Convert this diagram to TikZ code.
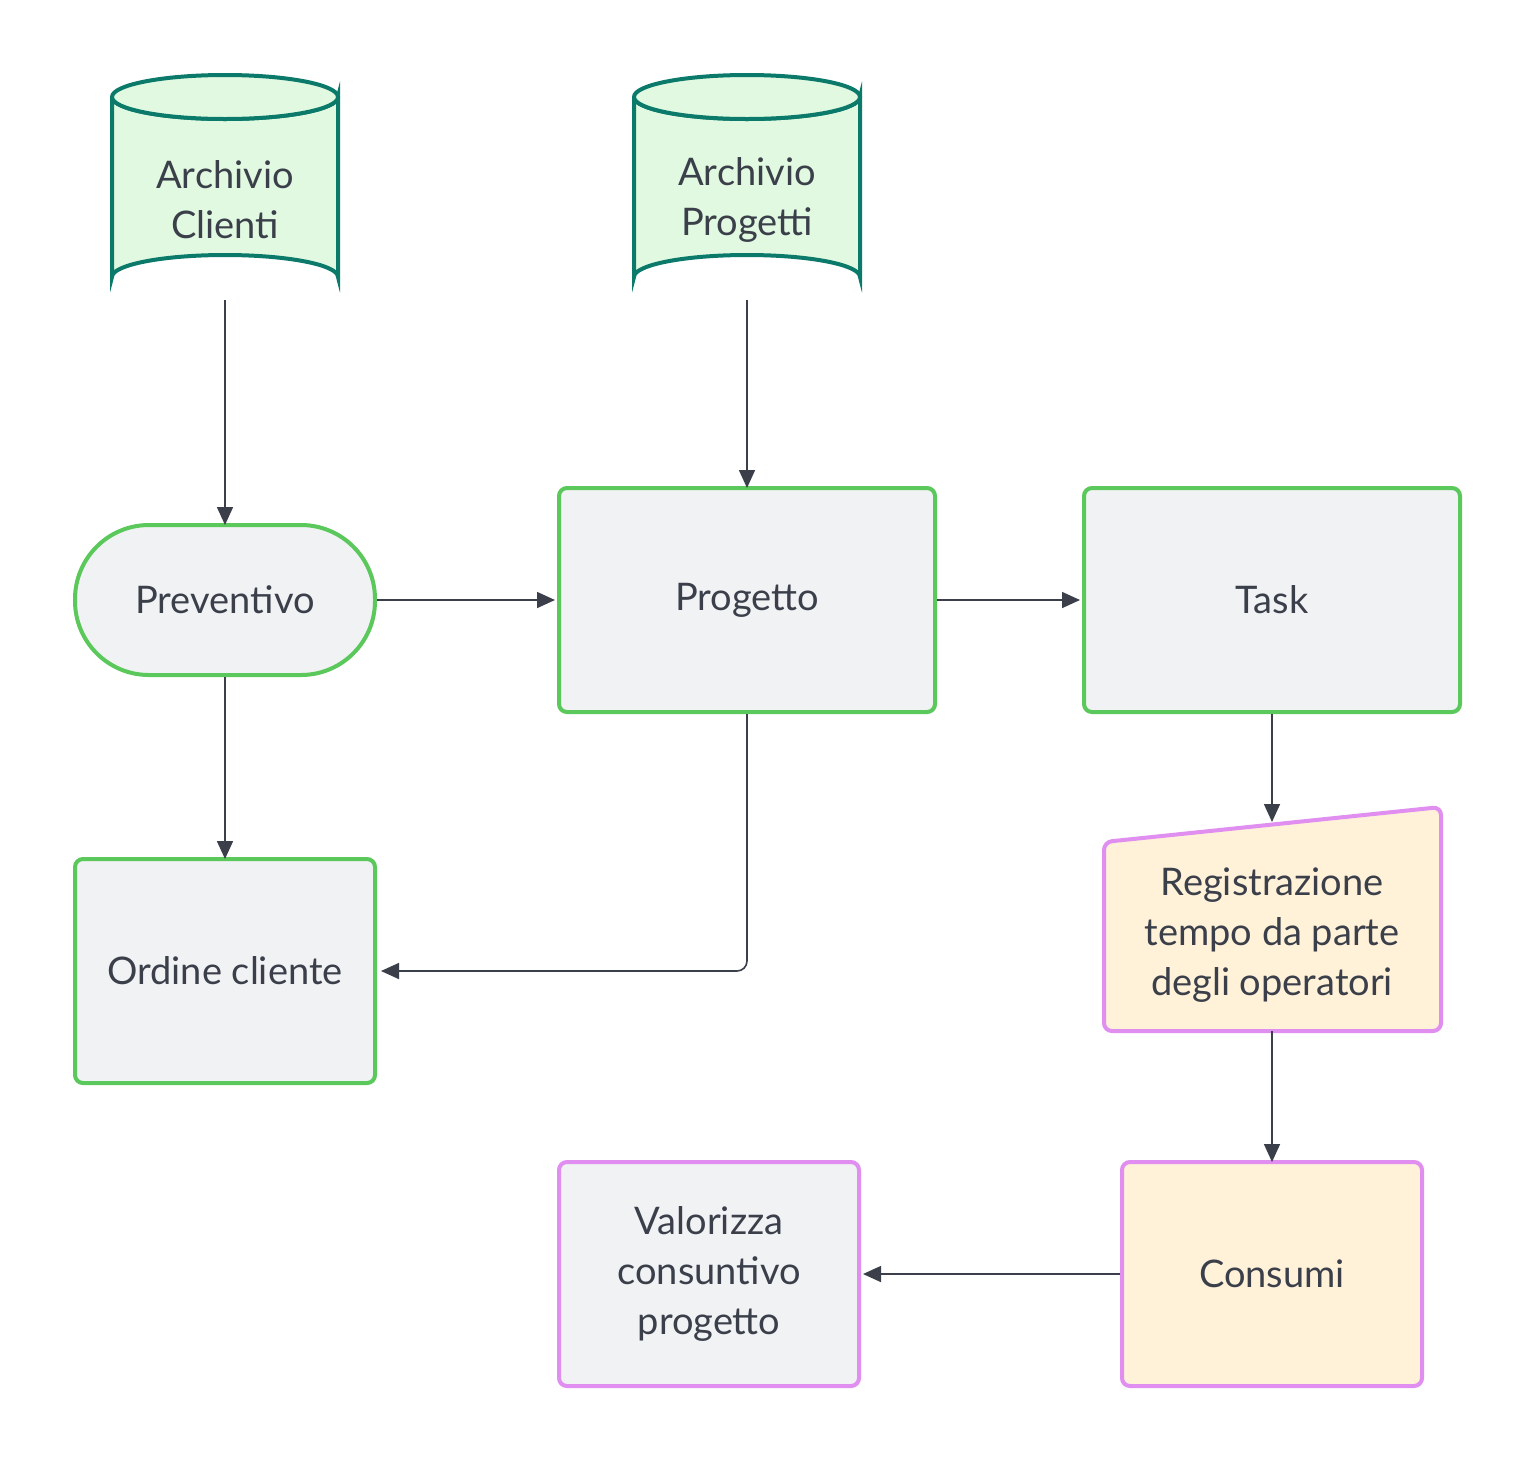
\documentclass[tikz,border=0pt]{standalone}
\usepackage{fontspec}
\setmainfont{Lato}
\usetikzlibrary{arrows.meta}
\definecolor{teal}{HTML}{0B7A6A}
\definecolor{cylfill}{HTML}{E0F9E0}
\definecolor{grn}{HTML}{5AC85A}
\definecolor{gry}{HTML}{F1F2F4}
\definecolor{pur}{HTML}{E08EF0}
\definecolor{crm}{HTML}{FFF2D9}
\definecolor{ink}{HTML}{3A3F4A}
\begin{document}
\begin{tikzpicture}[x=0.5pt,y=-0.5pt,
 txt/.style={font=\fontsize{19}{25}\selectfont,text=ink,align=center},
 box/.style={txt,draw=grn,fill=gry,line width=2pt,rounded corners=4pt,inner sep=0pt},
 pbox/.style={box,draw=pur},
 cyl/.style={draw=teal,fill=cylfill,line width=2pt},
 arr/.style={draw=ink,line width=0.8pt,-{Triangle[length=9pt,width=8pt]}}]
\fill[white] (0,0) rectangle (1536,1463);
% cylinders
\foreach \cx in {225,747}{
 \path[cyl] (\cx-113,97) -- (\cx-113,277) arc[start angle=180,end angle=360,x radius=113,y radius=22] -- (\cx+113,97) arc[start angle=0,end angle=180,x radius=113,y radius=22];
 \path[cyl] (\cx,97) ellipse[x radius=113,y radius=22];
}
\node[txt,minimum width=113pt,minimum height=100pt] (ac) at (225,200) {Archivio\\Clienti};
\node[txt,minimum width=113pt,minimum height=100pt] (ap) at (747,200) {Archivio\\Progetti};
\node[box,rounded corners=37pt,minimum width=150pt,minimum height=75pt] (prev) at (225,600) {Preventivo};
\node[box,minimum width=188pt,minimum height=112pt] (prog) at (747,600) {Progetto};
\node[box,minimum width=188pt,minimum height=112pt] (task) at (1272,600) {Task};
\node[box,minimum width=150pt,minimum height=112pt] (ord) at (225,971) {Ordine cliente};
\path[draw=pur,fill=crm,line width=2pt,rounded corners=4pt] (1104,842) -- (1441,807) -- (1441,1031) -- (1104,1031) -- cycle;
\node[txt] (reg) at (1272,935) {Registrazione\\tempo da parte\\degli operatori};
\coordinate (regt) at (1272,822);
\coordinate (regb) at (1272,1031);
\node[pbox,fill=crm,minimum width=150pt,minimum height=112pt] (cons) at (1272,1274) {Consumi};
\node[pbox,minimum width=150pt,minimum height=112pt] (val) at (709,1274) {Valorizza\\consuntivo\\progetto};
% arrows
\draw[arr] (ac.south) -- ([yshift=-1pt]prev.north);
\draw[arr] (ap.south) -- ([yshift=-1pt]prog.north);
\draw[arr] (prev.east) -- ([xshift=-1pt]prog.west);
\draw[arr] (prog.east) -- ([xshift=-1pt]task.west);
\draw[arr] (prev.south) -- ([yshift=-1pt]ord.north);
\draw[arr,rounded corners=5pt] (prog.south) |- ([xshift=2pt]ord.east);
\draw[arr] (task.south) -- (regt);
\draw[arr] (regb) -- ([yshift=-1pt]cons.north);
\draw[arr] (cons.west) -- ([xshift=1pt]val.east);
\end{tikzpicture}
\end{document}
